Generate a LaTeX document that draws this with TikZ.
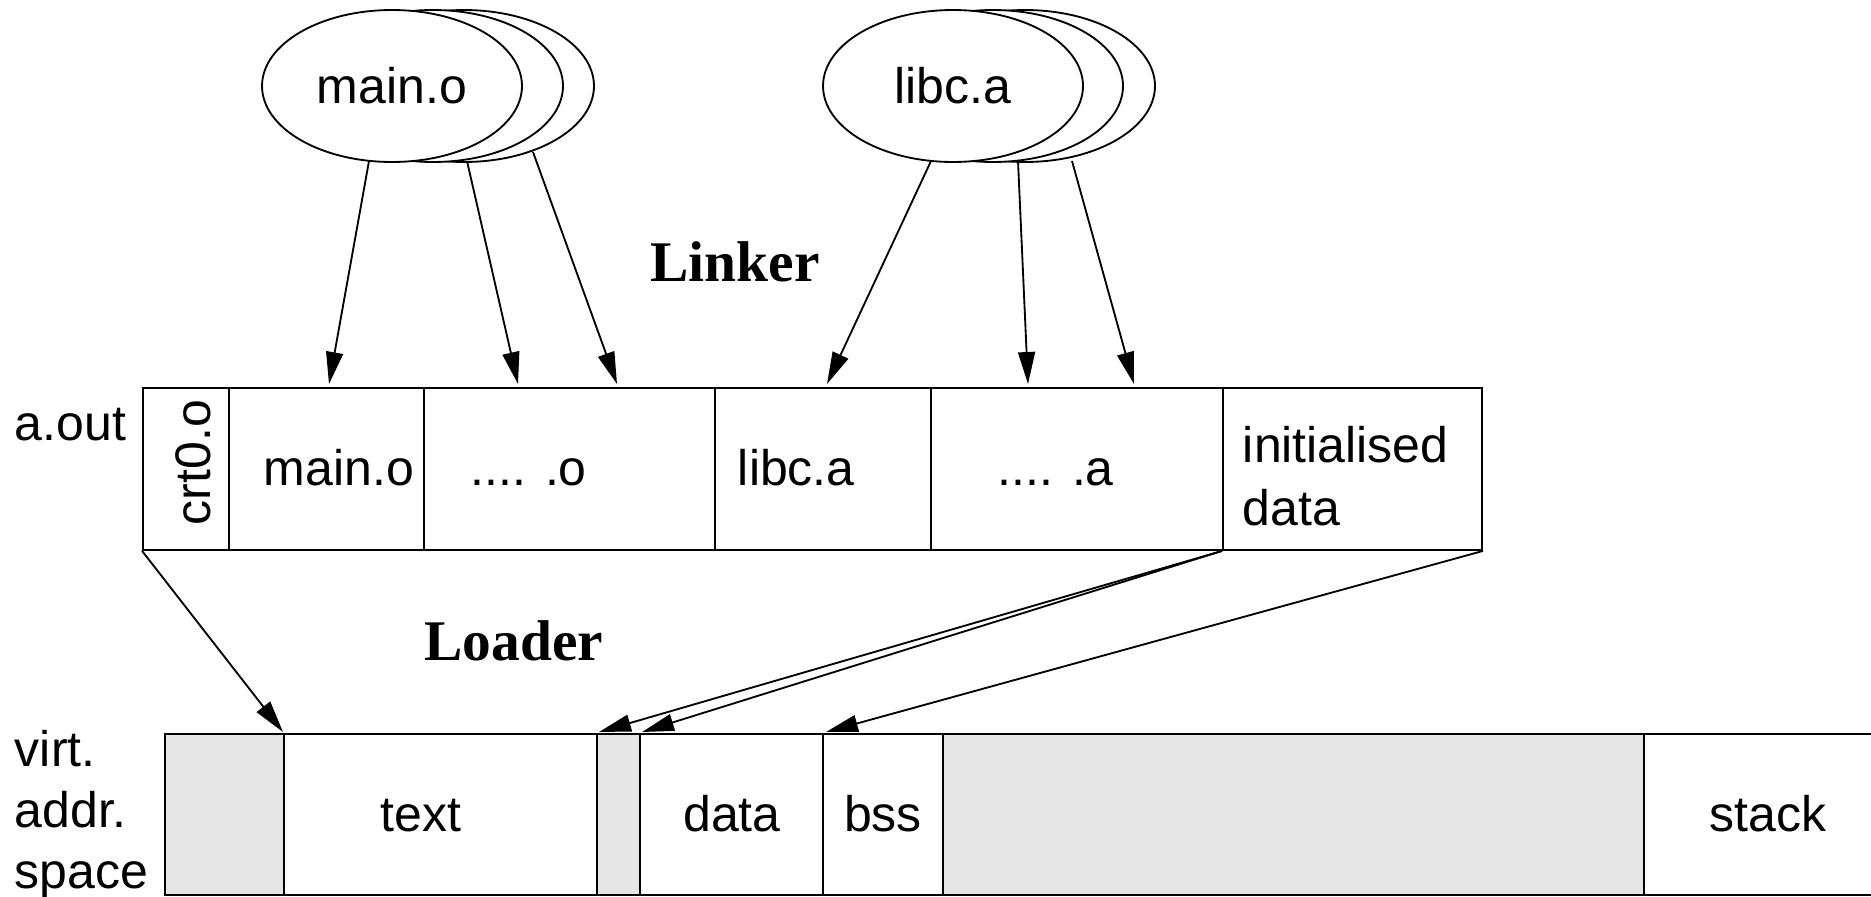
\documentclass[tikz,border=0pt]{standalone}
\usepackage{fontspec}
\setmainfont{Liberation Sans}
\newfontfamily\lserif{Liberation Serif}
\usetikzlibrary{arrows.meta,fit,shapes.geometric}
\begin{document}
\begin{tikzpicture}[x=0.02cm,y=-0.02cm, line width=1.05pt,
  lbl/.style={inner sep=0pt, font=\fontsize{28.45pt}{34pt}\selectfont},
  big/.style={inner sep=0pt, font=\fontsize{32.7pt}{38pt}\selectfont\lserif\bfseries},
  cell/.style={draw, inner sep=0pt},
  grey/.style={cell, fill=black!10},
  obj/.style={draw, ellipse, fill=white, minimum width=5.2cm, minimum height=3.04cm, inner sep=0pt, font=\fontsize{28.45pt}{34pt}\selectfont},
  arr/.style={-{Triangle[length=0.64cm,width=0.34cm]}}]
\useasboundingbox (0,0) rectangle (1871,896);

% object files
\node[obj] (m3) at (464,86) {};
\node[obj] (m2) at (433,86) {};
\node[obj] (m1) at (392,86) {main.o};
\node[obj] (l3) at (1025,86) {};
\node[obj] (l2) at (993,86) {};
\node[obj] (l1) at (953,86) {libc.a};

% a.out cells
\node[cell, fit={(143,388)(229,550)}] (crt) {};
\node[cell, fit={(229,388)(424,550)}] (cmain) {};
\node[cell, fit={(424,388)(715,550)}] (cdoto) {};
\node[cell, fit={(715,388)(931,550)}] (clibc) {};
\node[cell, fit={(931,388)(1223,550)}] (cdota) {};
\node[cell, fit={(1223,388)(1482,550)}] (cinit) {};

% virtual address space cells
\node[grey, fit={(165,734)(284,895)}] (g1) {};
\node[cell, fit={(284,734)(597,895)}] (vtext) {};
\node[grey, fit={(597,734)(640,895)}] (g2) {};
\node[cell, fit={(640,734)(823,895)}] (vdata) {};
\node[cell, fit={(823,734)(943,895)}] (vbss) {};
\node[grey, fit={(943,734)(1644,895)}] (g3) {};
\node[cell, fit={(1644,734)(1900,895)}] (vstack) {};

% labels
\node[lbl, anchor=base west] (aout) at (14,440) {a.out};
\node[lbl, rotate=90, anchor=base west] (tcrt) at (210,526) {crt0.o};
\node[lbl, anchor=base west] (tmain) at (263,485) {main.o};
\node[lbl, anchor=base west] (tdoto) at (470,485) {.... .o};
\node[lbl, anchor=base west] (tlibc) at (737,485) {libc.a};
\node[lbl, anchor=base west] (tdota) at (997,485) {.... .a};
\node[lbl, anchor=base west] (tinit1) at (1242,462) {initialised};
\node[lbl, anchor=base west] (tinit2) at (1242,525) {data};

\node[lbl, anchor=base] (ttext) at (421,831) {text};
\node[lbl, anchor=base] (tdata) at (732,831) {data};
\node[lbl, anchor=base] (tbss) at (883,831) {bss};
\node[lbl, anchor=base] (tstack) at (1768,831) {stack};

\node[lbl, anchor=base west] (virt) at (14,766) {virt.};
\node[lbl, anchor=base west] (addr) at (14,827) {addr.};
\node[lbl, anchor=base west] (space) at (14,888) {space};

\node[big, anchor=base] (linker) at (735,281) {Linker};
\node[big, anchor=base] (loader) at (514,660) {Loader};

% linker arrows
\coordinate (ms1) at (369,161); \coordinate (me1) at (329,384);
\coordinate (ms2) at (467,161); \coordinate (me2) at (518,384);
\coordinate (ms3) at (533,152); \coordinate (me3) at (617,384);
\coordinate (ls1) at (931,161); \coordinate (le1) at (827,384);
\coordinate (ls2) at (1018,161); \coordinate (le2) at (1028,384);
\coordinate (ls3) at (1072,161); \coordinate (le3) at (1134,384);
\draw[arr] (ms1) -- (me1);
\draw[arr] (ms2) -- (me2);
\draw[arr] (ms3) -- (me3);
\draw[arr] (ls1) -- (le1);
\draw[arr] (ls2) -- (le2);
\draw[arr] (ls3) -- (le3);

% loader arrows
\coordinate (t1) at (283,732);
\coordinate (t2) at (599,732);
\coordinate (t3) at (642,732);
\coordinate (t4) at (826,732);
\draw[arr] (crt.south west) -- (t1);
\draw[arr] (cinit.south west) -- (t2);
\draw[arr] (cinit.south west) -- (t3);
\draw[arr] (cinit.south east) -- (t4);
\end{tikzpicture}
\end{document}
